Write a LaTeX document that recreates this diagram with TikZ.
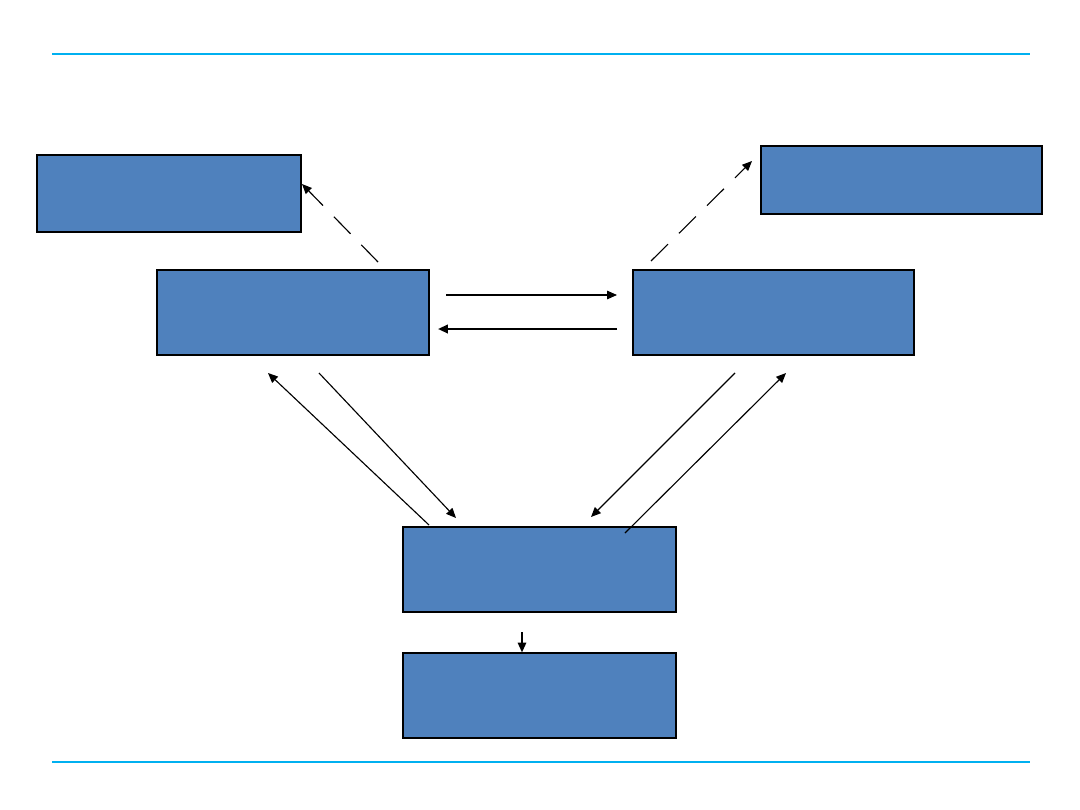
\documentclass[tikz,border=0pt]{standalone}
\usepackage{tikz}
\usetikzlibrary{arrows.meta,positioning,calc}
\definecolor{boxblue}{RGB}{79,129,189}
\definecolor{rulecyan}{RGB}{0,176,240}

\tikzset{
  blockbox/.style={draw=black,line width=0.8pt,fill=boxblue,inner sep=0pt},
  flow/.style={-{Triangle[length=7pt,width=6pt]},line width=0.8pt},
  backflow/.style={-{Triangle[length=7pt,width=6pt]},line width=1.5pt},
  hint/.style={flow,dash pattern=on 17pt off 11pt}
}

\begin{document}
\begin{tikzpicture}[x=0.025cm,y=-0.025cm]
        \useasboundingbox (0,0) rectangle (1080,810);
        % top and bottom rules
        \draw[rulecyan,line width=0.9pt] (52,54) -- (1030,54);
        \draw[rulecyan,line width=0.9pt] (52,762) -- (1030,762);
        % boxes
        \node[blockbox,minimum width=6.6cm,minimum height=1.925cm] (tl) at (169,193.5) {};
        \node[blockbox,minimum width=7.025cm,minimum height=1.7cm] (tr) at (901.5,180) {};
        \node[blockbox,minimum width=6.8cm,minimum height=2.125cm] (ml) at (293,312.5) {};
        \node[blockbox,minimum width=7.025cm,minimum height=2.125cm] (mr) at (773.5,312.5) {};
        \node[blockbox,minimum width=6.825cm,minimum height=2.125cm] (bt) at (539.5,569.5) {};
        \node[blockbox,minimum width=6.825cm,minimum height=2.125cm] (bb) at (539.5,695.5) {};
        % free ends of the connectors
        \coordinate (mlup) at (378,262);
        \coordinate (tlin) at (302,184);
        \coordinate (mrup) at (651,261);
        \coordinate (trin) at (752,161);
        \coordinate (mlout) at (446,295);
        \coordinate (mrin) at (617,295);
        \coordinate (mrout) at (617,329);
        \coordinate (mlin) at (438,329);
        \coordinate (btl) at (429,525);
        \coordinate (mll) at (268,373);
        \coordinate (mlr) at (319,373);
        \coordinate (btlin) at (456,518);
        \coordinate (mrl) at (735,373);
        \coordinate (btrin) at (591,517);
        \coordinate (btr) at (625,533);
        \coordinate (mrr) at (786,373);
        \coordinate (btdown) at (522,632);
        % connectors
        \draw[hint] (mlup) -- (tlin);
        \draw[hint] (mrup) -- (trin);
        \draw[flow] (mlout) -- (mrin);
        \draw[backflow] (mrout) -- (mlin);
        \draw[flow] (btl) -- (mll);
        \draw[flow] (mlr) -- (btlin);
        \draw[flow] (mrl) -- (btrin);
        \draw[flow] (btr) -- (mrr);
        \draw[flow,line width=1.2pt] (btdown) -- (bb.north -| btdown);
      \end{tikzpicture}
\end{document}
